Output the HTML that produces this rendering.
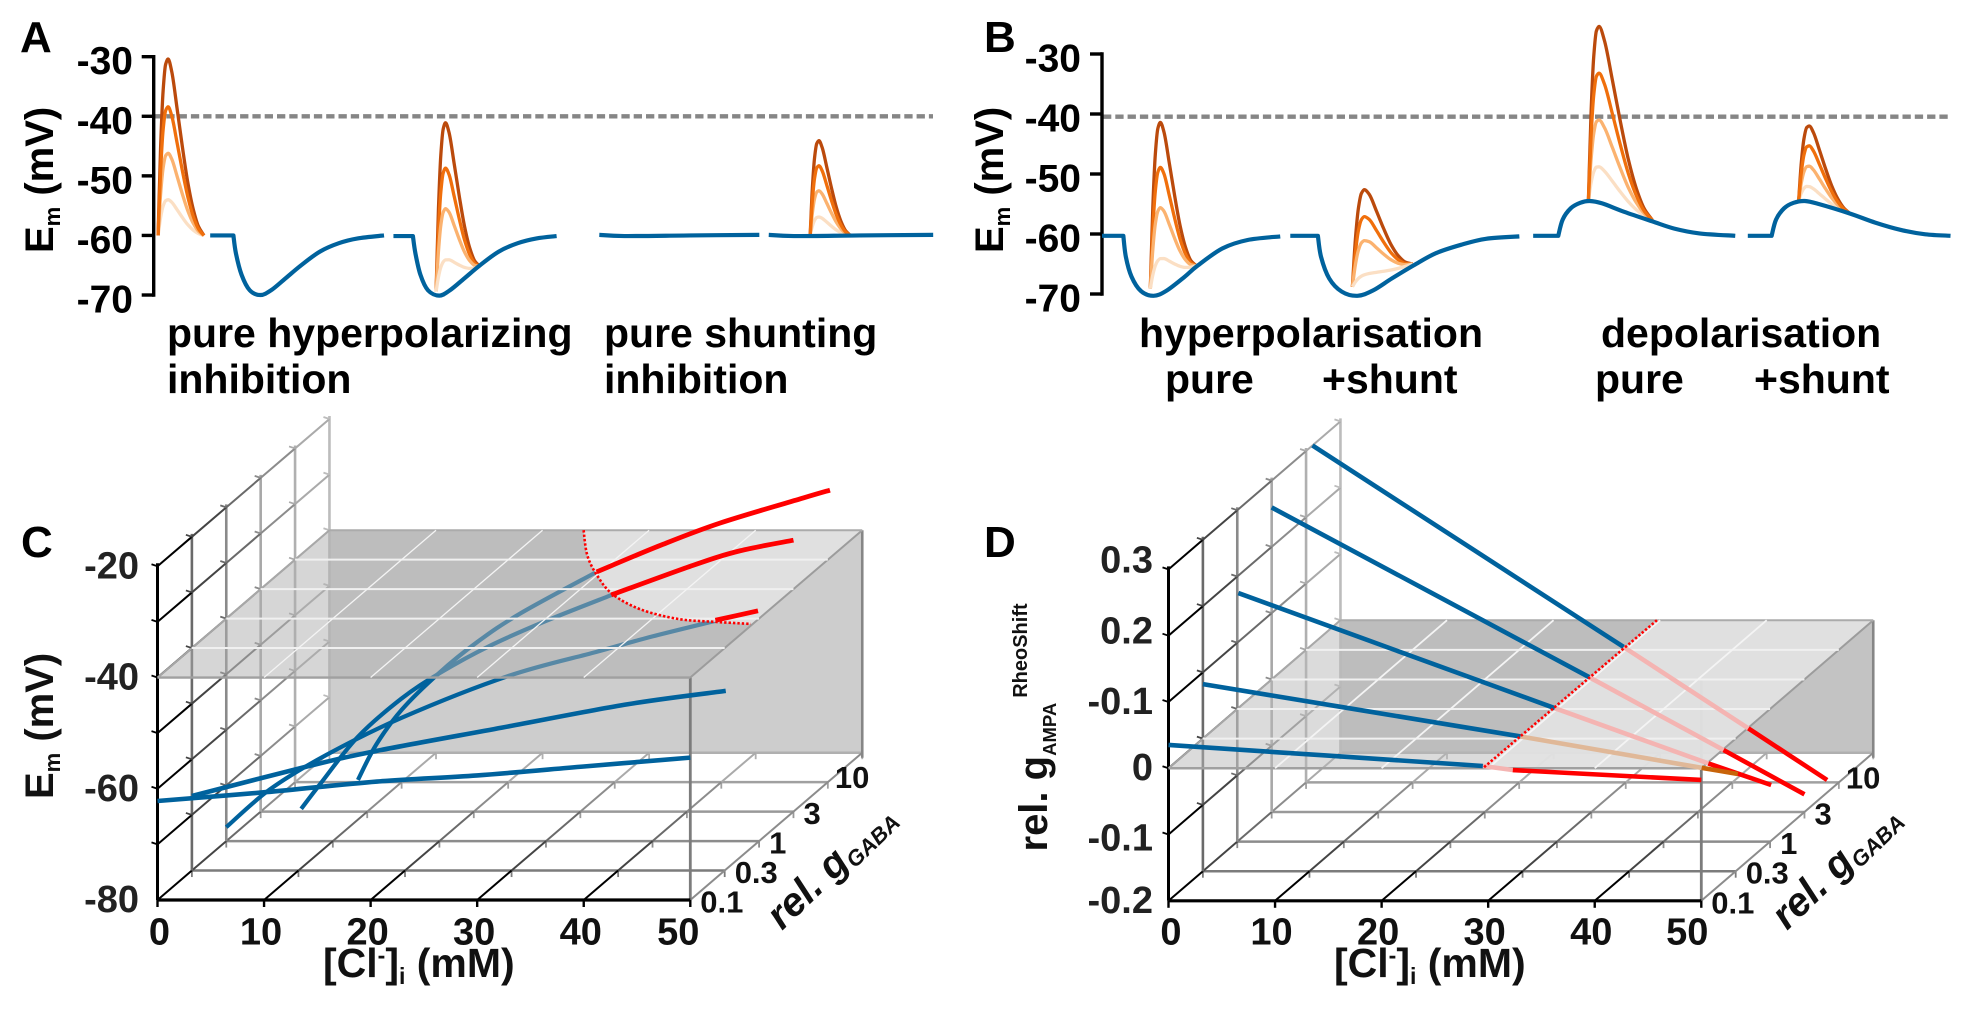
<!DOCTYPE html>
<html lang="en">
<head>
<meta charset="utf-8">
<title>Membrane potential and rheobase shift under GABA and AMPA input</title>
<style>
html,body{margin:0;padding:0;background:#fff}
svg{display:block;font-family:"Liberation Sans",sans-serif;font-weight:bold}
</style>
</head>
<body>
<svg id="fig" xmlns="http://www.w3.org/2000/svg" width="1968" height="1009" viewBox="0 0 1968 1009">
<rect width="1968" height="1009" fill="#fff"/>
<g id="panelA"></g>
<g id="panelB"></g>
<g id="panelC"></g>
<g id="panelD"></g>

<g font-size="44">
<text x="20" y="52">A</text>
<text x="984" y="52">B</text>
<text x="21" y="557">C</text>
<text x="984" y="557">D</text>
</g>

<g font-size="41">
<text x="167" y="347">pure hyperpolarizing</text>
<text x="167" y="393">inhibition</text>
<text x="604" y="347">pure shunting</text>
<text x="604" y="393">inhibition</text>
<text x="1139" y="347">hyperpolarisation</text>
<text x="1601" y="347">depolarisation</text>
<text x="1165" y="393">pure</text>
<text x="1322" y="393">+shunt</text>
<text x="1595" y="393">pure</text>
<text x="1754" y="393">+shunt</text>
</g>

<g>
<text font-size="40" transform="translate(53,253) rotate(-90)">E<tspan font-size="22" dy="7">m</tspan><tspan dy="-7">&#160;(mV)</tspan></text>
<text font-size="40" transform="translate(1003,253) rotate(-90)">E<tspan font-size="22" dy="7">m</tspan><tspan dy="-7">&#160;(mV)</tspan></text>
<text font-size="40" transform="translate(53,799) rotate(-90)" fill="#111">E<tspan font-size="22" dy="7">m</tspan><tspan dy="-7">&#160;(mV)</tspan></text>
<text font-size="40" transform="translate(1047,851.5) rotate(-90)" fill="#111">rel. g<tspan font-size="18.5" dy="9">AMPA</tspan><tspan font-size="20" dy="-29" dx="5">RheoShift</tspan></text>
<text font-size="41" x="323" y="977" fill="#111">[Cl<tspan font-size="23" dy="-14">-</tspan><tspan dy="14">]</tspan><tspan font-size="23" dy="7">i</tspan><tspan dy="-7">&#160;(mM)</tspan></text>
<text font-size="41" x="1334" y="977" fill="#111">[Cl<tspan font-size="23" dy="-14">-</tspan><tspan dy="14">]</tspan><tspan font-size="23" dy="7">i</tspan><tspan dy="-7">&#160;(mM)</tspan></text>
<text font-size="40" font-style="italic" fill="#111" transform="translate(782,931) rotate(-44)">rel. g<tspan font-size="22" dy="6">GABA</tspan></text>
<text font-size="40" font-style="italic" fill="#111" transform="translate(1787,931) rotate(-44)">rel. g<tspan font-size="22" dy="6">GABA</tspan></text>
</g>
</svg>

<script>
/* ---------- Panel A / B: voltage traces (time in ms, voltage in mV) ---------- */
const voltageTicks = [-30, -40, -50, -60, -70];
const voltageTickLabels = ['-30', '-40', '-50', '-60', '-70'];
const spikeThresholdA = -40;
const spikeThresholdB = -40.45;

const traceA1Time = [90,127,131,140,153,170,187,210,235,265,295,325,367];
const traceA1Volt = [-60,-60,-63,-66.6,-69.2,-70,-69.2,-67.2,-65,-62.7,-61.3,-60.5,-60];
const traceA2Time = [382,413,417,425,437,455,472,495,520,550,580,610,642];
const traceA2Volt = [-60.1,-60.1,-63,-66.6,-69.2,-70.1,-69.2,-67.2,-65,-62.7,-61.3,-60.5,-60.1];
const traceA3Time = [710,750,855,965];
const traceA3Volt = [-59.9,-60.1,-60,-59.9];
const traceA4Time = [980,1020,1125,1242];
const traceA4Volt = [-59.9,-60.1,-60,-59.9];

const traceB1Time = [0,34,38,47,62,82,102,132,152,192,232,284];
const traceB1Volt = [-60.3,-60.3,-63.8,-67.1,-69.5,-70.3,-69.5,-67.1,-65.3,-62.4,-61,-60.4];
const traceB2Time = [300,344,349,362,382,407,432,462,497,532,572,612,665];
const traceB2Volt = [-60.3,-60.3,-63.8,-67.4,-69.6,-70.3,-69.4,-67.4,-65.2,-63.2,-61.8,-60.8,-60.4];
const traceB3Time = [687,727,734,747,762,777,797,832,877,912,952,1009];
const traceB3Volt = [-60.3,-60.3,-57.6,-55.7,-54.8,-54.5,-54.9,-56.3,-57.9,-59.1,-59.9,-60.3];
const traceB4Time = [1029,1067,1074,1087,1102,1120,1142,1192,1232,1272,1312,1352];
const traceB4Volt = [-60.3,-60.3,-57.6,-55.7,-54.8,-54.5,-55,-56.6,-58.1,-59.3,-60.05,-60.3];

/* Event timing: onset, peak, end (ms); resting voltage at onset and end; peak voltage per stimulus strength */
const eventA1Timing = [7,23,80];
const eventA1Rest = [-60,-60];
const eventA1Peaks = [-30.4,-38.4,-46.2,-54];
const eventA2Timing = [450,465,520];
const eventA2Rest = [-69.4,-65.2];
const eventA2Peaks = [-41.1,-48.7,-55.5,-64.1];
const eventA3Timing = [1046,1060,1110];
const eventA3Rest = [-60,-60];
const eventA3Peaks = [-44.1,-48.3,-52.5,-56.9];

const eventB1Timing = [77,93,150];
const eventB1Rest = [-69.1,-65.3];
const eventB1Peaks = [-41.4,-48.9,-55.6,-64.1];
const eventB2Timing = [399,418,495];
const eventB2Rest = [-68.8,-65];
const eventB2Peaks = [-52.6,-57.1,-61.1,-66.8];
const eventB3Timing = [775,792,877];
const eventB3Rest = [-54.5,-57.7];
const eventB3Peaks = [-25.4,-33.2,-41,-48.8];
const eventB4Timing = [1110,1127,1192];
const eventB4Rest = [-54.5,-56.6];
const eventB4Peaks = [-42,-45.3,-48.7,-52.1];

const eventRiseFraction = [0,.25,.5,.75,1];
const eventRiseLevel = [0,.5,.82,.97,1];
const eventDecayFraction = [0,.1,.25,.4,.55,.7,.85,1];
const eventDecayLevel = [1,.93,.72,.5,.3,.15,.05,0];

/* ---------- Panel C / D: 3-D plots ---------- */
const chlorideTicks = [0,10,20,30,40,50];
const gabaLabels = ['0.1','0.3','1','3','10'];

const emTicksMinor = [-80,-70,-60,-50,-40,-30,-20];
const emTickValues = [-80,-60,-40,-20];
const emTickLabels = ['-80','-60','-40','-20'];

const emG01Cl = [0,10.2,20.6,30,40,50];
const emG01Mv = [-62.2,-60.6,-58.7,-57.6,-56,-54.4];
const emG03Cl = [0,10.8,17.3,29.1,40.9,50.1];
const emG03Mv = [-66.6,-61.3,-58.5,-54.3,-50.1,-47.7];
const emG1Cl = [0,4.1,9.4,16.5,26.5,34.7,40,45.9];
const emG1Mv = [-77.5,-70.7,-64.5,-57.8,-50.3,-46,-43.2,-40.4];
const emG3Cl = [3.8,5.6,9.1,13.2,16.8,21.5,26.8,33];
const emG3Mv = [-79.5,-75,-66.6,-59.7,-55.1,-50.2,-45.7,-41];
const emG10Cl = [5.9,7.6,10,13.5,17.1,21.2,28.3];
const emG10Mv = [-79.6,-73.3,-67,-60.4,-54.8,-49.6,-42.2];

const spikeG1Cl = [45.9,49.9];
const spikeG1Mv = [-40.3,-38.6];
const spikeG3Cl = [32.9,40.6,45,50];
const spikeG3Mv = [-41.05,-35.7,-33.1,-31.2];
const spikeG10Cl = [28.3,34.25,39.9,47.7,50.2];
const spikeG10Mv = [-42.2,-37.45,-33.4,-28.9,-27.5];

const emBoundaryCl = [23.85,26.9,29.9,33.5,37.8,42.4,46.2,49.8];
const emBoundaryDepth = [5,4.16,3.5,2.84,2.32,1.99,1.89,1.82];

const rheoTicks = [-.2,-.1,0,.1,.2,.3];
const rheoTickLabels = ['-0.2','-0.1','0','-0.1','0.2','0.3'];

const rheoG01Cl = [0,29.5,32.3,50];
const rheoG01Shift = [.0351,.0034,-.0027,-.0177];
const rheoG03Cl = [0,29.8,46.8,50.2];
const rheoG03Shift = [.0822,.0033,-.044,-.0533];
const rheoG1Cl = [.1,29.8,44.2,50.1];
const rheoG1Shift = [.175,.0013,-.082,-.1146];
const rheoG3Cl = [0,29.8,42.4,50];
const rheoG3Shift = [.2595,.0034,-.1065,-.1733];
const rheoG10Cl = [.6,29.8,41.5,48.9];
const rheoG10Shift = [.3084,.0043,-.1184,-.1964];

const rheoBoundaryCl = [29.7,29.5];
const rheoBoundaryDepth = [5,0];

/* ---------- helpers ---------- */
const NS = 'http://www.w3.org/2000/svg';
function mk(parent, tag, attrs, content) {
  const el = document.createElementNS(NS, tag);
  for (const k in attrs) el.setAttribute(k, attrs[k]);
  if (content !== undefined) el.textContent = content;
  parent.appendChild(el);
  return el;
}
function smoothPath(pts) {
  const n = pts.length;
  if (n === 2) return 'M' + pts[0].join(' ') + 'L' + pts[1].join(' ');
  const m = [], t = [];
  for (let i = 0; i < n - 1; i++) m[i] = (pts[i + 1][1] - pts[i][1]) / (pts[i + 1][0] - pts[i][0]);
  t[0] = m[0]; t[n - 1] = m[n - 2];
  for (let i = 1; i < n - 1; i++) t[i] = m[i - 1] * m[i] <= 0 ? 0 : 2 * m[i - 1] * m[i] / (m[i - 1] + m[i]);
  let d = 'M' + pts[0][0].toFixed(2) + ' ' + pts[0][1].toFixed(2);
  for (let i = 0; i < n - 1; i++) {
    const h = (pts[i + 1][0] - pts[i][0]) / 3;
    d += 'C' + (pts[i][0] + h).toFixed(2) + ' ' + (pts[i][1] + t[i] * h).toFixed(2) + ' ' +
      (pts[i + 1][0] - h).toFixed(2) + ' ' + (pts[i + 1][1] - t[i + 1] * h).toFixed(2) + ' ' +
      pts[i + 1][0].toFixed(2) + ' ' + pts[i + 1][1].toFixed(2);
  }
  return d;
}
/* Catmull-Rom through points */
function smoothPathAny(pts) {
  let d = 'M' + pts[0][0].toFixed(2) + ' ' + pts[0][1].toFixed(2);
  for (let i = 0; i < pts.length - 1; i++) {
    const p0 = pts[Math.max(i - 1, 0)], p1 = pts[i], p2 = pts[i + 1], p3 = pts[Math.min(i + 2, pts.length - 1)];
    d += 'C' + (p1[0] + (p2[0] - p0[0]) / 6).toFixed(2) + ' ' + (p1[1] + (p2[1] - p0[1]) / 6).toFixed(2) + ' ' +
      (p2[0] - (p3[0] - p1[0]) / 6).toFixed(2) + ' ' + (p2[1] - (p3[1] - p1[1]) / 6).toFixed(2) + ' ' +
      p2[0].toFixed(2) + ' ' + p2[1].toFixed(2);
  }
  return d;
}

/* ---------- trace panels ---------- */
const eventInks = ['#bb4a0c', '#f06f0c', '#fbb26f', '#fbdfc4'];
const paleOnTop = [0, 1, 2, 3];
const orangeOnTop = [3, 2, 0, 1];

function drawEvent(g, xS, yS, timing, rest, peaks, order) {
  order.forEach(k => {
    const span = timing[2] - timing[0];
    const baseAt = t => rest[0] + (rest[1] - rest[0]) * (t - timing[0]) / span;
    const amp = peaks[k] - baseAt(timing[1]);
    const pts = [];
    eventRiseFraction.forEach((f, i) => {
      const t = timing[0] + f * (timing[1] - timing[0]);
      pts.push([xS(t), yS(baseAt(t) + amp * eventRiseLevel[i])]);
    });
    eventDecayFraction.forEach((f, i) => {
      if (i === 0) return;
      const t = timing[1] + f * (timing[2] - timing[1]);
      pts.push([xS(t), yS(baseAt(t) + amp * eventDecayLevel[i])]);
    });
    const p = mk(g, 'path', {d: smoothPath(pts), fill: 'none', stroke: eventInks[k], 'stroke-width': 3.3, 'stroke-linejoin': 'round'});
    
    
  });
}
function drawBaseTrace(g, xS, yS, times, volts, hasStep) {
  const pts = times.map((t, i) => [xS(t), yS(volts[i])]);
  const d = hasStep
    ? 'M' + pts[0][0].toFixed(2) + ' ' + pts[0][1].toFixed(2) + 'L' + smoothPathAny(pts.slice(1)).slice(1)
    : smoothPathAny(pts);
  const p = mk(g, 'path', {d: d, fill: 'none', stroke: '#00629d', 'stroke-width': 4.2, 'stroke-linejoin': 'round'});
  
  
}
function drawVoltageAxis(g, axisX, yS, labelRight, labelDrop) {
  const ax = mk(g, 'line', {x1: axisX, x2: axisX, y1: yS(-30) - 1.7, y2: yS(-70) + 1.7, stroke: '#000', 'stroke-width': 3.4});
  
  
  voltageTicks.forEach((v, i) => {
    const tk = mk(g, 'line', {x1: axisX - 12, x2: axisX, y1: yS(v), y2: yS(v), stroke: '#000', 'stroke-width': 3.4});
    
    
    const tx = mk(g, 'text', {x: labelRight, y: yS(v) + labelDrop, 'text-anchor': 'end', 'font-size': 39}, voltageTickLabels[i]);
    
    
  });
}
function drawThreshold(g, x1, x2, y) {
  const l = mk(g, 'line', {x1: x1, x2: x2, y1: y, y2: y, stroke: '#868686', 'stroke-width': 4.4, 'stroke-dasharray': '8.3 4'});
  
  
}

const gA = document.getElementById('panelA');
const xA = t => 153.7 + t * 0.6276;
const yA = v => 56.7 + (-30 - v) * 5.958;
drawThreshold(gA, 154, 933, yA(spikeThresholdA));
drawVoltageAxis(gA, 153.7, yA, 133, 17.5);
drawEvent(gA, xA, yA, eventA1Timing, eventA1Rest, eventA1Peaks, orangeOnTop);
drawEvent(gA, xA, yA, eventA2Timing, eventA2Rest, eventA2Peaks, paleOnTop);
drawEvent(gA, xA, yA, eventA3Timing, eventA3Rest, eventA3Peaks, orangeOnTop);
drawBaseTrace(gA, xA, yA, traceA1Time, traceA1Volt, true);
drawBaseTrace(gA, xA, yA, traceA2Time, traceA2Volt, true);
drawBaseTrace(gA, xA, yA, traceA3Time, traceA3Volt, false);
drawBaseTrace(gA, xA, yA, traceA4Time, traceA4Volt, false);

const gB = document.getElementById('panelB');
const xB = t => 1102 + t * 0.6276;
const yB = v => 54 + (-30 - v) * 6;
drawThreshold(gB, 1103, 1950, yB(spikeThresholdB));
drawVoltageAxis(gB, 1102, yB, 1081, 17.5);
drawEvent(gB, xB, yB, eventB1Timing, eventB1Rest, eventB1Peaks, paleOnTop);
drawEvent(gB, xB, yB, eventB2Timing, eventB2Rest, eventB2Peaks, paleOnTop);
drawEvent(gB, xB, yB, eventB3Timing, eventB3Rest, eventB3Peaks, orangeOnTop);
drawEvent(gB, xB, yB, eventB4Timing, eventB4Rest, eventB4Peaks, orangeOnTop);
drawBaseTrace(gB, xB, yB, traceB1Time, traceB1Volt, true);
drawBaseTrace(gB, xB, yB, traceB2Time, traceB2Volt, true);
drawBaseTrace(gB, xB, yB, traceB3Time, traceB3Volt, true);
drawBaseTrace(gB, xB, yB, traceB4Time, traceB4Volt, true);

/* ---------- 3-D panels ---------- */
const verticalInks = ['#000000', '#6a6a6a', '#8a8a8a', '#a8a8a8', '#b0b0b0', '#bcbcbc'];
const diagonalInks = ['#000000', '#444444', '#6a6a6a', '#8c8c8c', '#aaaaaa', '#bcbcbc'];
const floorInks = ['#000000', '#7c7c7c', '#8c8c8c', '#999999', '#a0a0a0', '#b0b0b0'];
const DEPTHS = 5;

function makeProjection(x0, y0, perCl, depX, depY, perV, vMin) {
  return (cl, d, v) => [x0 + cl * perCl + d * depX, y0 - d * depY - (v - vMin) * perV];
}
function seg(g, a, b, ink, w) {
  return mk(g, 'line', {x1: a[0], y1: a[1], x2: b[0], y2: b[1], stroke: ink, 'stroke-width': w});
}
function drawWallAndGrid(g, P, vMin, vMax, vPlane, wallTicks, wallFill, frontTop) {
  const tl = P(0, DEPTHS, vPlane), br = P(50, DEPTHS, vMin);
  const wall = mk(g, 'rect', {x: tl[0], y: tl[1], width: br[0] - tl[0], height: br[1] - tl[1], fill: wallFill});
  
  

  for (let d = DEPTHS; d >= 1; d--) {
    const l = seg(g, P(0, d, vMin), P(50, d, vMin), floorInks[d], 2.5);
    
    
    chlorideTicks.forEach(c => {
      const a = P(c, d, vMin);
      const t = seg(g, a, [a[0], a[1] + 6.5], floorInks[d], 1.8);
      
      
    });
  }
  chlorideTicks.forEach(c => {
    if (c === 0) return;
    for (let d = 0; d < DEPTHS; d++) {
      const ink = c === 50 ? '#8c8c8c' : diagonalInks[d];
      const l = seg(g, P(c, d, vMin), P(c, d + 1, vMin), ink, 2);
      
      
    }
  });
  for (let d = 0; d < DEPTHS; d++) {
    const l = seg(g, P(0, d, vMin), P(0, d + 1, vMin), diagonalInks[d], 2);
    
    
  }
  for (let d = DEPTHS; d >= 0; d--) {
    const a = P(0, d, vMin), b = P(0, d, vMax);
    const l = seg(g, a, [b[0], b[1] - 3], verticalInks[d], d === 0 ? 3 : 2.6);
    
    
  }
  wallTicks.forEach(v => {
    if (v === vMin) return;
    for (let d = 0; d < DEPTHS; d++) {
      const l = seg(g, P(0, d, v), P(0, d + 1, v), diagonalInks[d], 2);
      
      
    }
    for (let d = 0; d <= DEPTHS; d++) {
      const a = P(0, d, v);
      const t = seg(g, [a[0] - 6, a[1] - 2], a, diagonalInks[d], 1.8);
      
      
    }
  });
  const frontR = seg(g, P(50, 0, vMin), P(50, 0, frontTop), '#7c7c7c', 2.8);
  
  
  const a = P(50, DEPTHS, vMin);
  const backR = seg(g, [a[0], a[1] + 5], P(50, DEPTHS, vPlane), '#868686', 2.6);
  
  
}
function drawPlane(g, P, vPlane, boundaryCl, boundaryDepth, planeInk, diagWidth) {
  const corners = [P(0, 0, vPlane), P(50, 0, vPlane), P(50, DEPTHS, vPlane), P(0, DEPTHS, vPlane)];
  const plane = mk(g, 'polygon', {points: corners.map(p => p.join(',')).join(' '), fill: planeInk, 'fill-opacity': .5});
  
  

  const bPts = boundaryCl.map((c, i) => P(c, boundaryDepth[i], vPlane));
  let d = smoothPathAny(bPts);
  const farCorner = P(50, DEPTHS, vPlane);
  const lastDepth = boundaryDepth[boundaryDepth.length - 1];
  const rim = P(50, lastDepth, vPlane);
  d += 'L' + rim.join(' ') + 'L' + farCorner.join(' ') + 'Z';
  const light = mk(g, 'path', {d: d, fill: '#e2e2e2', 'fill-opacity': .93});
  
  

  const frontEdge = seg(g, P(0, 0, vPlane), P(50, 0, vPlane), '#a0a0a0', 2.4);
  
  
  const rightEdge = seg(g, P(50, 0, vPlane), P(50, DEPTHS, vPlane), '#9c9c9c', 2);
  
  
  const backEdge = seg(g, P(0, DEPTHS, vPlane), P(50, DEPTHS, vPlane), '#ababab', 2);
  
  
  const leftEdge = seg(g, P(0, 0, vPlane), P(0, DEPTHS, vPlane), '#a8a8a8', 1.8);
  
  

  for (let k = 1; k < DEPTHS; k++) {
    const l = seg(g, P(0, k, vPlane), P(50, k, vPlane), '#f0f0f0', 2);
    
    
  }
  chlorideTicks.forEach(c => {
    if (c === 0 || c === 50) return;
    const l = seg(g, P(c, 0, vPlane), P(c, DEPTHS, vPlane), '#f4f4f4', diagWidth);
    
    
  });
}
function drawBoundary(g, P, vPlane, boundaryCl, boundaryDepth) {
  const pts = boundaryCl.map((c, i) => P(c, boundaryDepth[i], vPlane));
  const b = mk(g, 'path', {d: smoothPathAny(pts), fill: 'none', stroke: '#f00', 'stroke-width': 2.6, 'stroke-dasharray': '2.4 2'});
  
  
}
function drawCurve(g, P, depth, cls, vals, ink, w) {
  const pts = cls.map((c, i) => P(c, depth, vals[i]));
  const p = mk(g, 'path', {d: smoothPathAny(pts), fill: 'none', stroke: ink, 'stroke-width': w});
  
  
}
function drawAxisLabels(g, P, vMin, xNudge, baseline) {
  const axis = seg(g, P(0, 0, vMin), P(50, 0, vMin), '#000', 3.2);
  
  
  chlorideTicks.forEach(c => {
    const a = P(c, 0, vMin);
    const t = seg(g, a, [a[0], a[1] + 7], '#000', 2.4);
    
    
    const tx = mk(g, 'text', {x: a[0] + xNudge(c), y: baseline, 'text-anchor': 'middle', 'font-size': 38, fill: '#111'}, String(c));
    
    
  });
  gabaLabels.forEach((lab, d) => {
    const a = P(50, d, vMin);
    const drop = d === 4 ? 6 : 12.5;
    const tx = mk(g, 'text', {x: a[0] + (d === 4 ? 7 : 10), y: a[1] + drop, 'font-size': 31, fill: '#111'}, lab);
    
    
  });
}
function drawYLabels(g, P, values, labels, right, dropFor) {
  values.forEach((v, i) => {
    const a = P(0, 0, v);
    const tx = mk(g, 'text', {x: right, y: a[1] + dropFor(v), 'text-anchor': 'end', 'font-size': 38, fill: '#222'}, labels[i]);
    
    
  });
}

/* Panel C */
const gC = document.getElementById('panelC');
const PC = makeProjection(157.5, 900, 10.656, 34.39, 29.46, 5.562, -80);
drawWallAndGrid(gC, PC, -80, -20, -40, emTicksMinor, '#cdcdcd', -40);
drawCurve(gC, PC, 4, emG10Cl, emG10Mv, '#00629d', 4.2);
drawCurve(gC, PC, 3, emG3Cl, emG3Mv, '#00629d', 4.2);
drawCurve(gC, PC, 2, emG1Cl, emG1Mv, '#00629d', 4.2);
drawPlane(gC, PC, -40, emBoundaryCl, emBoundaryDepth, 'rgb(173,173,173)', 1.3);
drawCurve(gC, PC, 1, emG03Cl, emG03Mv, '#00629d', 4.6);
drawCurve(gC, PC, 0, emG01Cl, emG01Mv, '#00629d', 4.6);
drawCurve(gC, PC, 2, spikeG1Cl, spikeG1Mv, '#f00', 4.8);
drawCurve(gC, PC, 3, spikeG3Cl, spikeG3Mv, '#f00', 4.8);
drawCurve(gC, PC, 4, spikeG10Cl, spikeG10Mv, '#f00', 4.8);
drawBoundary(gC, PC, -40, emBoundaryCl, emBoundaryDepth);
drawAxisLabels(gC, PC, -80, c => c === 50 ? -12 : (c === 0 ? 2 : -3), 944.6);
drawYLabels(gC, PC, emTickValues, emTickLabels, 139, () => 12);

/* Panel D */
const gD = document.getElementById('panelD');
const PD = makeProjection(1168.5, 900.8, 10.656, 34.39, 29.6, 662.8, -.2);
drawWallAndGrid(gD, PD, -.2, .3, 0, rheoTicks, '#c3c3c3', .1346);
drawPlane(gD, PD, 0, rheoBoundaryCl, rheoBoundaryDepth, 'rgb(183,183,183)', 1.8);
function drawRheoSeries(g, depth, cls, vals, washInk, tailInk) {
  drawCurve(g, PD, depth, cls.slice(2, 4), vals.slice(2, 4), tailInk, 4.6);
  drawCurve(g, PD, depth, cls.slice(1, 3), vals.slice(1, 3), washInk, 4.6);
  drawCurve(g, PD, depth, cls.slice(0, 2), vals.slice(0, 2), '#00629d', 4.6);
}
drawRheoSeries(gD, 4, rheoG10Cl, rheoG10Shift, '#f4b4b2', '#f00');
drawRheoSeries(gD, 3, rheoG3Cl, rheoG3Shift, '#f4b4b2', '#f00');
drawRheoSeries(gD, 2, rheoG1Cl, rheoG1Shift, '#f4b4b2', '#f00');
drawRheoSeries(gD, 1, rheoG03Cl, rheoG03Shift, '#e0b898', '#c8640a');
drawRheoSeries(gD, 0, rheoG01Cl, rheoG01Shift, '#f4b4b2', '#f00');
drawBoundary(gD, PD, 0, rheoBoundaryCl, rheoBoundaryDepth);
drawAxisLabels(gD, PD, -.2, c => c === 50 ? -14 : (c === 0 ? 2.5 : -3.5), 944.6);
drawYLabels(gD, PD, rheoTicks, rheoTickLabels, 1153, v => v > .25 ? 3 : v > .15 ? 8 : v < -.15 ? 12 : v < -.05 ? 16 : 12);
</script>
</body>
</html>
